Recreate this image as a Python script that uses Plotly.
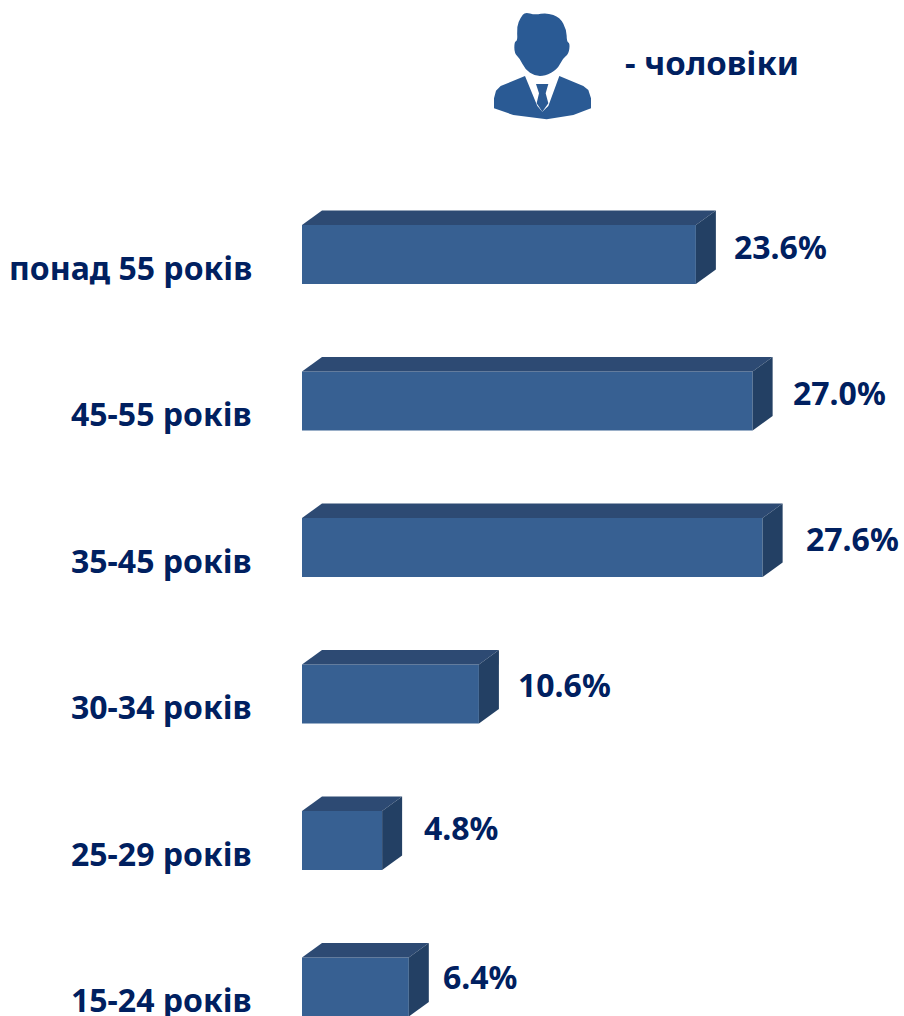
import plotly.graph_objects as go

categories = ["понад 55 років", "45-55 років", "35-45 років", "30-34 років", "25-29 років", "15-24 років"]
values = [23.6, 27.0, 27.6, 10.6, 4.8, 6.4]
value_labels = ["23.6%", "27.0%", "27.6%", "10.6%", "4.8%", "6.4%"]
legend_label = "- чоловіки"
# hand-placed label nudges seen in the reference (pixels)
label_nudge_x = [36, 38, 41, 37, 40, 32]
label_nudge_y = [8.5, 9, 9.5, 10, 13.5, 11]

W, H = 904, 1016
LEFT = 302
PX_PER_UNIT = 16.69
FIRST_Y, STEP = 254.5, 146.5
DX = 20 / PX_PER_UNIT
DY = 14.5 / STEP
BAR = 59 / STEP
FONT = "Noto Sans"
TEXT = "#002060"
FRONT, TOP, SIDE = "#376092", "#2d4a73", "#234064"
ICON = "#2a5a94"

fig = go.Figure()
pos = list(range(len(values)))

fig.add_trace(go.Bar(y=pos, x=values, orientation="h", width=BAR,
                     marker=dict(color=FRONT, line=dict(width=0)), hoverinfo="skip"))
for i, v in zip(pos, values):
    t, b = i - BAR / 2, i + BAR / 2
    fig.add_trace(go.Scatter(x=[0, DX, v + DX, v, 0], y=[t, t - DY, t - DY, t, t],
                             fill="toself", fillcolor=TOP, mode="lines", line=dict(width=0), hoverinfo="skip"))
    fig.add_trace(go.Scatter(x=[v, v + DX, v + DX, v, v], y=[t, t - DY, b - DY, b, t],
                             fill="toself", fillcolor=SIDE, mode="lines", line=dict(width=0), hoverinfo="skip"))
    fig.add_annotation(x=v, y=i, text=f"<b>{value_labels[i]}</b>", xref="x", yref="y", showarrow=False,
                       xanchor="left", yanchor="middle", xshift=label_nudge_x[i], yshift=label_nudge_y[i],
                       font=dict(family=FONT, size=32, color=TEXT))
    fig.add_annotation(x=0, y=i, text=f"<b>{categories[i]}</b>", xref="x", yref="y", showarrow=False,
                       xanchor="right", yanchor="middle", xshift=-48, yshift=-12.5,
                       font=dict(family=FONT, size=32, color=TEXT))


def to_paper(p):
    return (480 + p[0] / 3 - LEFT) / (W - LEFT), 1 - (p[1] / 3) / H


def path(points, smooth=False):
    """Icon outline from zoomed-crop points to a paper-coordinate path."""
    pts = [to_paper(p) for p in points]
    if not smooth:
        return "M" + " L".join(f"{x:.5f},{y:.5f}" for x, y in pts) + " Z"
    n = len(pts)
    mid = [((pts[k][0] + pts[(k + 1) % n][0]) / 2, (pts[k][1] + pts[(k + 1) % n][1]) / 2) for k in range(n)]
    d = f"M{mid[-1][0]:.5f},{mid[-1][1]:.5f}"
    for k in range(n):
        d += f" Q{pts[k][0]:.5f},{pts[k][1]:.5f} {mid[k][0]:.5f},{mid[k][1]:.5f}"
    return d + " Z"


head = [(135, 36), (165, 45), (200, 38), (240, 52), (260, 90), (260, 125), (270, 130), (266, 162), (248, 176),
        (232, 208), (195, 228), (165, 228), (135, 208), (120, 176), (103, 160), (103, 125), (113, 122), (110, 80), (122, 52)]
body = [(135, 228), (172, 318), (187, 335), (205, 318), (238, 228), (310, 258), (325, 270), (333, 295), (333, 325), (280, 345),
        (200, 358), (100, 345), (42, 325), (42, 295), (48, 272), (62, 258)]
tie = [(168, 252), (205, 252), (197, 280), (205, 310), (187, 335), (170, 310), (177, 280)]
shapes = [dict(type="path", xref="paper", yref="paper", path=path(p, s), fillcolor=ICON, line=dict(width=0), layer="above")
          for p, s in ((head, True), (body, False), (tie, False))]

fig.add_annotation(x=(623 - LEFT) / (W - LEFT), y=1 - 62.5 / H, xref="paper", yref="paper", text=f"<b>{legend_label}</b>",
                   showarrow=False, xanchor="left", yanchor="middle", font=dict(family=FONT, size=33, color=TEXT))

fig.update_layout(
    width=W, height=H, margin=dict(l=LEFT, r=0, t=0, b=0), showlegend=False,
    plot_bgcolor="white", paper_bgcolor="white", shapes=shapes,
    xaxis=dict(range=[0, (W - LEFT) / PX_PER_UNIT], visible=False, fixedrange=True),
    yaxis=dict(range=[(H - FIRST_Y) / STEP, -FIRST_Y / STEP], visible=False, fixedrange=True),
)
fig.write_html("out.html", config={"displayModeBar": False},
               post_script="document.body.style.margin='0';")
